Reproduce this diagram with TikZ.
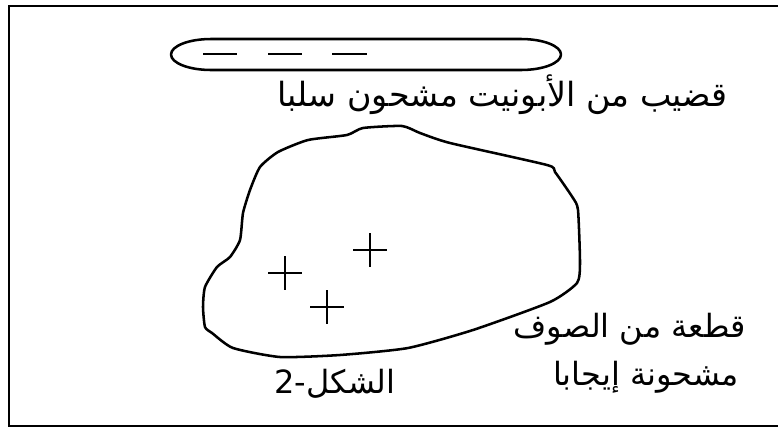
\documentclass[tikz,border=0pt]{standalone}
\usepackage{fontspec}
\usepackage{tikz}
\newfontfamily\arabicfont[Script=Arabic]{DejaVu Sans}
\TeXXeTstate=1

\begin{document}
\begin{tikzpicture}[
  x=0.75pt,
  y=-0.75pt,
  every node/.style={font=\arabicfont\fontsize{24}{36}\selectfont, inner sep=0pt},
  frameline/.style={draw=black, line width=2pt},
  outline/.style={draw=black, line width=1.9pt, line join=round},
  dashmark/.style={draw=black, line width=1.6pt},
  plusmark/.style={draw=black, line width=1.3pt}
]
\useasboundingbox (0,0) rectangle (778,429);

% frame, open on the right
\draw[frameline] (780,6) -- (9,6) -- (9,426) -- (780,426);

% ebonite rod
\draw[outline] (211,39) -- (521,39)
  arc[start angle=-90, end angle=90, x radius=40, y radius=15.5]
  -- (211,70)
  arc[start angle=90, end angle=270, x radius=40, y radius=15.5] -- cycle;
\draw[dashmark] (203,54) -- (237,54);
\draw[dashmark] (268,54) -- (302,54);
\draw[dashmark] (332,54) -- (367,54);
\node[anchor=base east, font=\arabicfont\fontsize{25}{36}\selectfont] (rodlabel) at (728,106)
  {\beginR قضيب من الأبونيت مشحون سلبا\endR};

% piece of wool
\draw[outline] plot[smooth cycle, tension=0.35] coordinates {
  (402,126) (363,128) (347,135) (308,140) (278,152) (260,167)
  (250,190) (243,213) (240,240) (230,257) (217,267) (205,287)
  (203,307) (205,327) (212,333) (233,348) (280,357) (340,355)
  (408,348) (473,330) (550,302) (577,283) (580,263) (578,210)
  (573,198) (555,172) (547,165) (450,143) (420,133)};

\draw[plusmark] (353,250) -- (387,250);
\draw[plusmark] (370,233) -- (370,267);
\draw[plusmark] (268,273) -- (302,273);
\draw[plusmark] (285,256) -- (285,290);
\draw[plusmark] (310,307) -- (344,307);
\draw[plusmark] (327,290) -- (327,324);

\node[anchor=base east, align=right] (woollabel) at (746,385)
  {\beginR قطعة من الصوف\endR\\ \beginR مشحونة إيجابا\endR\hspace*{5pt}};

\node[anchor=base] (figlabel) at (335,393) {\beginR الشكل-2\endR};
\end{tikzpicture}
\end{document}
